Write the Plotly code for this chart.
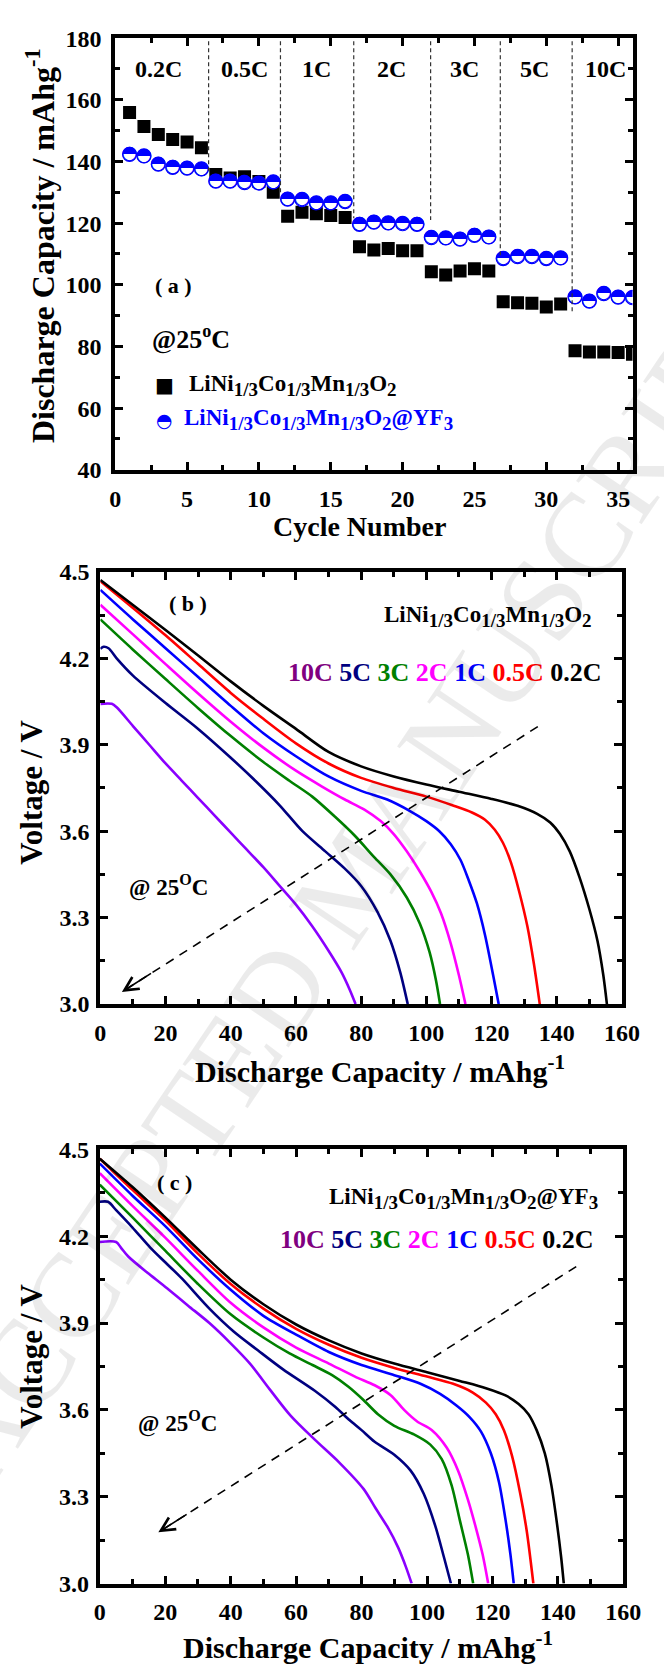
import plotly.graph_objects as go

W, H = 664, 1675
SERIF = "Liberation Serif"
SYM = "DejaVu Sans"

# ---------------- (a) rate capability ----------------
cycles = list(range(1, 37))
pristine = [155.9, 151.3, 148.7, 147.1, 146.3, 144.4,
            135.8, 134.6, 135.0, 133.5, 130.0,
            122.2, 123.5, 123.0, 122.5, 121.8,
            112.3, 111.3, 111.8, 111.0, 111.0,
            104.2, 103.2, 104.5, 105.2, 104.5,
            94.5, 94.2, 94.0, 92.8, 93.8,
            78.6, 78.2, 78.2, 78.0, 77.5]
coated = [142.3, 141.8, 139.1, 138.1, 137.8, 137.6,
          133.6, 133.6, 133.1, 133.0, 133.4,
          127.8, 127.6, 126.6, 126.6, 127.0,
          119.6, 120.3, 120.1, 119.8, 119.6,
          115.3, 115.2, 114.8, 116.0, 115.5,
          108.5, 109.1, 109.1, 108.5, 108.7,
          96.1, 94.7, 97.1, 96.0, 95.8]
rates = ["0.2C", "0.5C", "1C", "2C", "3C", "5C", "10C"]
rate_label_x = [3.0, 9.0, 14.0, 19.2, 24.3, 29.2, 34.1]
rate_bounds = [6.5, 11.5, 16.6, 21.95, 26.8, 31.8]
rate_bound_low = [137.0, 130.0, 121.6, 121.0, 109.3, 91.3]

# ---------------- (b) pristine discharge curves ----------------
b_cap = {
    "0.2C": [0, 10, 20, 30, 40, 50, 60, 70, 80, 90, 100, 110, 120, 128, 134, 138, 141, 144, 147, 150, 152.5, 154.3, 155.4],
    "0.5C": [0, 10, 20, 30, 40, 50, 60, 70, 80, 90, 100, 108, 114, 118, 121, 123.5, 126, 128.5, 131, 133, 134.8],
    "1C":   [0, 10, 20, 30, 40, 50, 60, 70, 80, 88, 95, 100, 104, 107.5, 110.5, 113, 115.5, 118, 120.5, 122.2],
    "2C":   [0, 10, 20, 30, 40, 50, 60, 68, 75, 81, 86, 90, 94, 98, 101.5, 104.5, 107.5, 110, 112],
    "3C":   [0, 10, 20, 30, 40, 50, 58, 65, 72, 78, 84, 89, 94, 98, 101, 103, 104.2],
    "5C":   [0, 1, 2.5, 5, 10, 20, 30, 40, 48, 55, 62, 69, 75, 80, 85, 89, 92, 94.3],
    "10C":  [0, 3.5, 5, 10, 15, 20, 25, 30, 35, 40, 45, 50, 55, 60, 65, 70, 74, 76.5, 78.3],
}
b_volt = {
    "0.2C": [4.472, 4.385, 4.298, 4.21, 4.12, 4.035, 3.955, 3.875, 3.825, 3.79, 3.762, 3.737, 3.712, 3.688,
             3.66, 3.63, 3.59, 3.53, 3.44, 3.33, 3.22, 3.10, 3.0],
    "0.5C": [4.468, 4.375, 4.28, 4.18, 4.08, 3.99, 3.905, 3.835, 3.785, 3.75, 3.72, 3.69, 3.665, 3.64,
             3.605, 3.56, 3.49, 3.39, 3.27, 3.14, 3.0],
    "1C":   [4.4375, 4.335, 4.235, 4.135, 4.035, 3.94, 3.86, 3.79, 3.74, 3.71, 3.67, 3.635, 3.6, 3.555,
             3.5, 3.43, 3.35, 3.24, 3.1, 3.0],
    "2C":   [4.386, 4.283, 4.18, 4.078, 3.98, 3.89, 3.81, 3.755, 3.71, 3.675, 3.635, 3.59, 3.53, 3.46,
             3.39, 3.315, 3.21, 3.1, 3.0],
    "3C":   [4.335, 4.23, 4.128, 4.027, 3.93, 3.84, 3.775, 3.72, 3.65, 3.585, 3.51, 3.45, 3.37, 3.28,
             3.18, 3.08, 3.0],
    "5C":   [4.233, 4.24, 4.235, 4.2, 4.14, 4.045, 3.955, 3.855, 3.77, 3.69, 3.6, 3.53, 3.47, 3.41,
             3.32, 3.22, 3.11, 3.0],
    "10C":  [4.042, 4.042, 4.03, 3.965, 3.9, 3.835, 3.775, 3.715, 3.655, 3.595, 3.535, 3.475, 3.41,
             3.345, 3.27, 3.185, 3.11, 3.05, 3.0],
}

# ---------------- (c) YF3-coated discharge curves ----------------
c_cap = {
    "0.2C": [0, 10, 20, 30, 40, 50, 60, 70, 80, 90, 100, 110, 118, 124, 128, 131, 133.5, 136, 138, 139.8, 141, 141.8],
    "0.5C": [0, 10, 20, 30, 40, 50, 60, 70, 80, 90, 100, 108, 114, 118, 121, 123.5, 126, 128.5, 130.5, 132.5],
    "1C":   [0, 10, 20, 30, 40, 50, 60, 70, 80, 90, 98, 104, 109, 113, 116.5, 119.5, 122, 124, 125.5, 126.5],
    "2C":   [0, 10, 20, 30, 40, 50, 60, 70, 78, 84, 89, 93, 97, 101.5, 106, 109.5, 112.5, 115, 117, 118.7],
    "3C":   [0, 10, 20, 30, 40, 50, 58, 65, 71, 76, 80.5, 85, 90, 96, 101, 104.5, 107.5, 110, 112.5, 114.1],
    "5C":   [0, 2.5, 5, 10, 15.5, 20, 25, 33.5, 41, 48.4, 56, 65.7, 72, 76.3, 80, 84, 90, 95, 99, 102.5,
             105.2, 107.3],
    "10C":  [0, 5, 6.5, 8.7, 15, 21.1, 27, 33.5, 40, 45.9, 52, 58.3, 65.7, 73.2, 80.6, 84.3, 88.1, 91.2,
             93.6, 95.3],
}
c_volt = {
    "0.2C": [4.468, 4.37, 4.265, 4.155, 4.05, 3.965, 3.895, 3.84, 3.795, 3.76, 3.73, 3.7, 3.675, 3.65,
             3.62, 3.585, 3.53, 3.45, 3.34, 3.2, 3.09, 3.0],
    "0.5C": [4.468, 4.36, 4.255, 4.14, 4.035, 3.95, 3.88, 3.825, 3.78, 3.745, 3.715, 3.69, 3.66, 3.625,
             3.585, 3.53, 3.44, 3.31, 3.18, 3.0],
    "1C":   [4.451, 4.34, 4.235, 4.12, 4.015, 3.925, 3.86, 3.8, 3.755, 3.72, 3.69, 3.655, 3.615, 3.575,
             3.525, 3.45, 3.35, 3.22, 3.1, 3.0],
    "2C":   [4.418, 4.305, 4.195, 4.08, 3.97, 3.885, 3.815, 3.76, 3.715, 3.685, 3.65, 3.6, 3.56, 3.53,
             3.47, 3.39, 3.29, 3.19, 3.1, 3.0],
    "3C":   [4.378, 4.265, 4.15, 4.035, 3.93, 3.85, 3.795, 3.755, 3.72, 3.68, 3.635, 3.585, 3.545, 3.515,
             3.48, 3.43, 3.34, 3.22, 3.1, 3.0],
    "5C":   [4.319, 4.319, 4.29, 4.23, 4.16, 4.11, 4.055, 3.95, 3.87, 3.805, 3.74, 3.666, 3.61, 3.565,
             3.53, 3.49, 3.445, 3.39, 3.31, 3.2, 3.09, 3.0],
    "10C":  [4.18, 4.18, 4.16, 4.13, 4.07, 4.015, 3.96, 3.9, 3.83, 3.76, 3.67, 3.58, 3.497, 3.418,
             3.327, 3.26, 3.192, 3.124, 3.056, 3.0],
}

curve_colors = {"0.2C": "#000000", "0.5C": "#FF0000", "1C": "#0000FF", "2C": "#FF00FF",
                "3C": "#008000", "5C": "#000080", "10C": "#8A00FF"}
label_colors = {"0.2C": "#000000", "0.5C": "#FF0000", "1C": "#0000FF", "2C": "#FF00FF",
                "3C": "#008000", "5C": "#000080", "10C": "#800080"}


def px(x):
    return x / W


def py(y):
    return 1 - y / H


fig = go.Figure()

# (a) markers: filled squares and half-filled circles
fig.add_trace(go.Scatter(x=cycles, y=pristine, mode="markers", xaxis="x", yaxis="y",
                         marker=dict(symbol="square", size=13, color="black"), showlegend=False))
fig.add_trace(go.Scatter(x=cycles, y=coated, mode="markers", xaxis="x", yaxis="y",
                         marker=dict(symbol="circle", size=14, color="white",
                                     line=dict(color="#0000FF", width=1.2)), showlegend=False))
fig.add_trace(go.Scatter(x=cycles, y=coated, mode="text", xaxis="x", yaxis="y",
                         text=["\u25D3"] * len(cycles), textposition="middle center",
                         textfont=dict(family=SYM, size=19, color="#0000FF"), showlegend=False))

# (b), (c) discharge curves
for key in ["10C", "5C", "3C", "2C", "1C", "0.5C", "0.2C"]:
    fig.add_trace(go.Scatter(x=b_cap[key], y=b_volt[key], mode="lines", xaxis="x2", yaxis="y2",
                             line=dict(color=curve_colors[key], width=2.6,
                                       shape="spline", smoothing=0.8), showlegend=False))
    fig.add_trace(go.Scatter(x=c_cap[key], y=c_volt[key], mode="lines", xaxis="x3", yaxis="y3",
                             line=dict(color=curve_colors[key], width=2.6,
                                       shape="spline", smoothing=0.8), showlegend=False))

tickfont = dict(family=SERIF, size=24, color="black", weight="bold")
common = dict(showline=True, linewidth=4, linecolor="black", mirror="allticks",
              ticks="inside", ticklen=8, tickwidth=3, tickcolor="black",
              showgrid=False, zeroline=False, tickfont=tickfont)


def minor(d):
    return dict(dtick=d, ticks="inside", ticklen=5, tickwidth=3, tickcolor="black", showgrid=False)


fig.update_layout(
    width=W, height=H, autosize=False,
    margin=dict(l=0, r=0, t=0, b=0),
    paper_bgcolor="white", plot_bgcolor="white",
    xaxis=dict(domain=[px(113.3), px(650)], range=[0, 36], dtick=5, tick0=0,
               minor=minor(2.5), anchor="y", ticklabelstandoff=4, **common),
    yaxis=dict(domain=[py(464), py(25.5)], range=[40, 180], dtick=20, tick0=40,
               minor=minor(10), anchor="x", ticklabelstandoff=5, **common),
    xaxis2=dict(domain=[px(97.9), px(639)], range=[0, 160], dtick=20, tick0=0,
                minor=minor(10), anchor="y2", ticklabelstandoff=4, **common),
    yaxis2=dict(domain=[py(1006.7), py(567.7)], range=[3.0, 4.5], dtick=0.3, tick0=3.0,
                tickformat=".1f", minor=minor(0.15), anchor="x2", ticklabelstandoff=2, **common),
    xaxis3=dict(domain=[px(97.3), px(640.5)], range=[0, 160], dtick=20, tick0=0,
                minor=minor(10), anchor="y3", ticklabelstandoff=4, **common),
    yaxis3=dict(domain=[py(1595.3), py(1154.3)], range=[3.0, 4.5], dtick=0.3, tick0=3.0,
                tickformat=".1f", minor=minor(0.15), anchor="x3", ticklabelstandoff=2, **common),
)

shapes = []
for xb, low in zip(rate_bounds, rate_bound_low):
    shapes.append(dict(type="line", xref="x", yref="y", x0=xb, x1=xb, y0=179, y1=low,
                       line=dict(color="#333333", width=1.2, dash="4px,3px")))
# trend arrows (dashed shafts)
shapes.append(dict(type="line", xref="x2", yref="y2", x0=134.2, y0=3.963, x1=6.6, y1=3.042,
                   line=dict(color="black", width=1.6, dash="9px,7px")))
shapes.append(dict(type="line", xref="x3", yref="y3", x0=145.6, y0=4.095, x1=17.9, y1=3.177,
                   line=dict(color="black", width=1.6, dash="9px,7px")))
fig.update_layout(shapes=shapes)

anns = []


def ann(text, x, y, size, color="black", xanchor="center", yanchor="middle", angle=0,
        family=SERIF, weight="bold"):
    anns.append(dict(text=text, x=px(x), y=py(y), xref="paper", yref="paper",
                     xanchor=xanchor, yanchor=yanchor, showarrow=False, textangle=angle,
                     font=dict(family=family, size=size, color=color, weight=weight)))


def sub(s, size=19):
    return "<sub><span style='font-size:%dpx'>%s</span></sub>" % (size, s)


formula = "LiNi" + sub("1/3") + "Co" + sub("1/3") + "Mn" + sub("1/3") + "O" + sub("2")
formula_yf3 = formula + "@YF" + sub("3")

# arrow heads
anns.append(dict(x=6.6, y=3.042, ax=16.0, ay=3.110, xref="x2", yref="y2", axref="x2", ayref="y2",
                 showarrow=True, arrowhead=5, arrowsize=1.7, arrowwidth=1.6, arrowcolor="black", text=""))
anns.append(dict(x=17.9, y=3.177, ax=27.0, ay=3.242, xref="x3", yref="y3", axref="x3", ayref="y3",
                 showarrow=True, arrowhead=5, arrowsize=1.7, arrowwidth=1.6, arrowcolor="black", text=""))

# (a) rate labels
for lab, lx in zip(rates, rate_label_x):
    anns.append(dict(text=lab, x=lx, y=169.9, xref="x", yref="y", showarrow=False,
                     font=dict(family=SERIF, size=24, color="black", weight="bold")))

# axis titles
ann("Discharge Capacity / mAhg<sup>-1</sup>", 36, 236, 32, angle=-90)
ann("Cycle Number", 367, 521.7, 28)
ann("Voltage / V", 27, 792, 31, angle=-90)
ann("Discharge Capacity / mAhg<sup>-1</sup>", 388, 1073, 30)
ann("Voltage / V", 27, 1365, 31, angle=-90)
ann("Discharge Capacity / mAhg<sup>-1</sup>", 376, 1658, 30)

# (a) labels and key
ann("( a )", 174, 276.7, 22)
ann("@25<sup>o</sup>C", 192, 330, 26)
ann("\u25A0", 164.6, 378.3, 20, family=SYM, weight="normal")
ann(formula, 187.8, 378, 23, xanchor="left")
ann("\u25D3", 164.6, 413.3, 19, color="#0000FF", family=SYM, weight="normal")
ann(formula_yf3, 182.7, 413, 23, color="#0000FF", xanchor="left")

rate_row = " ".join(
    "<span style='color:%s'>%s</span>" % (label_colors[k], k)
    for k in ["10C", "5C", "3C", "2C", "1C", "0.5C", "0.2C"])

# (b) labels
ann("( b )", 189, 600, 22)
ann(formula, 500, 613, 23)
ann(rate_row, 454.7, 670, 26)
ann("@ 25<sup>O</sup>C", 169, 886.7, 23)

# (c) labels
ann("( c )", 174.5, 1188.3, 22)
ann(formula_yf3, 474.7, 1204, 23)
ann(rate_row, 447, 1246, 26)
ann("@ 25<sup>O</sup>C", 178, 1431.7, 23)

# faint diagonal watermark
ann("ACCEPTED MANUSCRIPT", 360, 880, 120, color="rgba(0,0,0,0.08)", angle=-56, weight="normal")

fig.update_layout(annotations=anns)
fig.write_html("out.html")
